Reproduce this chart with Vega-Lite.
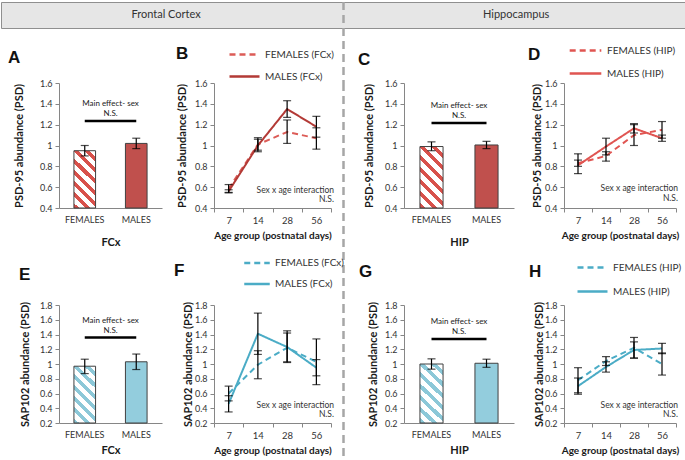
{
  "$schema": "https://vega.github.io/schema/vega-lite/v6.json",
  "padding": 0,
  "autosize": {"type": "pad"},
  "background": "white",
  "config": {
    "view": {"stroke": null},
    "font": "Lato",
    "text": {"font": "Lato"},
    "axis": {"domainColor": "#868686", "tickColor": "#868686", "labelColor": "#333333", "titleColor": "#1a1a1a", "labelFont": "Lato", "titleFont": "Lato", "titleFontWeight": "bold", "grid": false, "tickSize": 4, "labelFontSize": 9, "domainWidth": 1, "labelOverlap": false},
    "axisY": {"titleFontSize": 11, "labelPadding": 3},
    "axisX": {"titleFontSize": 10, "labelAngle": 0},
    "legend": {"labelFont": "Lato", "labelFontSize": 10, "labelColor": "#333333", "symbolType": "stroke", "symbolStrokeWidth": 2.5, "orient": "none", "title": null},
    "title": {"font": "Liberation Sans", "fontSize": 17, "fontWeight": "bold", "anchor": "start", "frame": "group", "baseline": "alphabetic", "color": "#111111"}
  },
  "data": {"values": [{"d": 0}]},
  "datasets": {
    "psdFCxBar": [{"sex": "FEMALES", "v": 0.95, "lo": 0.90, "hi": 1.00}, {"sex": "MALES", "v": 1.02, "lo": 0.97, "hi": 1.07}],
    "psdHIPBar": [{"sex": "FEMALES", "v": 0.99, "lo": 0.95, "hi": 1.035}, {"sex": "MALES", "v": 1.005, "lo": 0.97, "hi": 1.04}],
    "sapFCxBar": [{"sex": "FEMALES", "v": 0.97, "lo": 0.87, "hi": 1.065}, {"sex": "MALES", "v": 1.03, "lo": 0.925, "hi": 1.135}],
    "sapHIPBar": [{"sex": "FEMALES", "v": 1.0, "lo": 0.93, "hi": 1.07}, {"sex": "MALES", "v": 1.01, "lo": 0.955, "hi": 1.065}],
    "psdFCxLine": [
      {"age": 7, "grp": "FEMALES (FCx)", "v": 0.585, "lo": 0.55, "hi": 0.625},
      {"age": 14, "grp": "FEMALES (FCx)", "v": 1.01, "lo": 0.955, "hi": 1.075},
      {"age": 28, "grp": "FEMALES (FCx)", "v": 1.13, "lo": 1.02, "hi": 1.245},
      {"age": 56, "grp": "FEMALES (FCx)", "v": 1.07, "lo": 0.965, "hi": 1.17},
      {"age": 7, "grp": "MALES (FCx)", "v": 0.56, "lo": 0.545, "hi": 0.575},
      {"age": 14, "grp": "MALES (FCx)", "v": 1.0, "lo": 0.94, "hi": 1.06},
      {"age": 28, "grp": "MALES (FCx)", "v": 1.35, "lo": 1.27, "hi": 1.43},
      {"age": 56, "grp": "MALES (FCx)", "v": 1.18, "lo": 1.08, "hi": 1.28}
    ],
    "psdHIPLine": [
      {"age": 7, "grp": "FEMALES (HIP)", "v": 0.83, "lo": 0.80, "hi": 0.86},
      {"age": 14, "grp": "FEMALES (HIP)", "v": 0.90, "lo": 0.85, "hi": 0.94},
      {"age": 28, "grp": "FEMALES (HIP)", "v": 1.10, "lo": 1.00, "hi": 1.20},
      {"age": 56, "grp": "FEMALES (HIP)", "v": 1.15, "lo": 1.07, "hi": 1.23},
      {"age": 7, "grp": "MALES (HIP)", "v": 0.81, "lo": 0.73, "hi": 0.92},
      {"age": 14, "grp": "MALES (HIP)", "v": 0.99, "lo": 0.91, "hi": 1.07},
      {"age": 28, "grp": "MALES (HIP)", "v": 1.165, "lo": 1.12, "hi": 1.21},
      {"age": 56, "grp": "MALES (HIP)", "v": 1.07, "lo": 1.04, "hi": 1.10}
    ],
    "sapFCxLine": [
      {"age": 7, "grp": "FEMALES (FCx)", "v": 0.60, "lo": 0.50, "hi": 0.70},
      {"age": 14, "grp": "FEMALES (FCx)", "v": 0.99, "lo": 0.80, "hi": 1.18},
      {"age": 28, "grp": "FEMALES (FCx)", "v": 1.22, "lo": 1.02, "hi": 1.42},
      {"age": 56, "grp": "FEMALES (FCx)", "v": 1.03, "lo": 0.72, "hi": 1.34},
      {"age": 7, "grp": "MALES (FCx)", "v": 0.46, "lo": 0.35, "hi": 0.57},
      {"age": 14, "grp": "MALES (FCx)", "v": 1.41, "lo": 1.13, "hi": 1.69},
      {"age": 28, "grp": "MALES (FCx)", "v": 1.23, "lo": 1.03, "hi": 1.45},
      {"age": 56, "grp": "MALES (FCx)", "v": 0.95, "lo": 0.84, "hi": 1.06}
    ],
    "sapHIPLine": [
      {"age": 7, "grp": "FEMALES (HIP)", "v": 0.78, "lo": 0.61, "hi": 0.95},
      {"age": 14, "grp": "FEMALES (HIP)", "v": 1.04, "lo": 0.98, "hi": 1.10},
      {"age": 28, "grp": "FEMALES (HIP)", "v": 1.22, "lo": 1.08, "hi": 1.36},
      {"age": 56, "grp": "FEMALES (HIP)", "v": 1.00, "lo": 0.85, "hi": 1.15},
      {"age": 7, "grp": "MALES (HIP)", "v": 0.70, "lo": 0.59, "hi": 0.81},
      {"age": 14, "grp": "MALES (HIP)", "v": 0.96, "lo": 0.89, "hi": 1.03},
      {"age": 28, "grp": "MALES (HIP)", "v": 1.19, "lo": 1.08, "hi": 1.30},
      {"age": 56, "grp": "MALES (HIP)", "v": 1.21, "lo": 1.14, "hi": 1.28}
    ]
  },
  "resolve": {"scale": {"color": "independent", "strokeDash": "independent"}, "legend": {"color": "independent", "strokeDash": "independent"}},
  "vconcat": [
    {
      "width": 685, "height": 26,
      "view": {"fill": "#e6e6e6", "stroke": "#8f8f8f", "strokeWidth": 1},
      "layer": [
        {
          "data": {"values": [{"t": "Frontal Cortex", "p": 0.241}, {"t": "Hippocampus", "p": 0.752}]},
          "mark": {"type": "text", "font": "Lato", "fontSize": 11, "color": "#333333"},
          "encoding": {"x": {"field": "p", "type": "quantitative", "scale": {"domain": [0, 1]}, "axis": null}, "text": {"field": "t"}}
        },
        {
          "data": {"values": [{}]},
          "mark": {"type": "rule", "strokeDash": [8, 5], "strokeWidth": 2.5, "color": "#a6a6a6"},
          "encoding": {"x": {"datum": 0.5, "type": "quantitative"}}
        }
      ]
    },
    {
      "width": 685, "height": 55,
      "data": {"values": [{}]},
      "mark": {"type": "rule", "strokeDash": [8, 5], "strokeWidth": 2.5, "color": "#a6a6a6"},
      "encoding": {"x": {"datum": 0.5, "type": "quantitative", "scale": {"domain": [0, 1]}, "axis": null}}
    },
    {
      "columns": 10,
      "spacing": 0,
      "bounds": "flush",
      "resolve": {"scale": {"color": "independent", "strokeDash": "independent"}, "legend": {"color": "independent", "strokeDash": "independent"}},
      "concat": [
        {"width": 58, "height": 1, "mark": {"type": "text", "text": ""}, "encoding": {}},
        {
          "width": 103, "height": 125,
          "title": {"text": "A", "dx": -51, "offset": 12},
          "data": {"name": "psdFCxBar"},
          "layer": [
            {"mark": {"type": "bar", "stroke": "#404040", "strokeWidth": 1},
             "encoding": {
               "x": {"field": "sex", "type": "nominal", "title": "FCx", "scale": {"domain": ["FEMALES", "MALES"], "paddingInner": 0.58, "paddingOuter": 0.29}, "axis": {"ticks": false, "labelPadding": 7, "titlePadding": 12, "titleFontSize": 11}},
               "y": {"field": "v", "type": "quantitative", "title": "PSD-95 abundance (PSD)", "scale": {"domain": [0.4, 1.6], "nice": false, "zero": false}, "axis": {"values": [0.4, 0.6, 0.8, 1, 1.2, 1.4, 1.6], "tickCount": 12, "format": ".1~f", "titlePadding": 15}},
               "y2": {"datum": 0.4},
               "fill": {"condition": {"test": "datum.sex === 'FEMALES'", "value": {"gradient": "linear", "x1": 0, "y1": 1, "x2": 0.449, "y2": -0.205, "stops": [{"offset": 0, "color": "#D8514B"}, {"offset": 0.064, "color": "#D8514B"}, {"offset": 0.064, "color": "#ffffff"}, {"offset": 0.143, "color": "#ffffff"}, {"offset": 0.143, "color": "#D8514B"}, {"offset": 0.207, "color": "#D8514B"}, {"offset": 0.207, "color": "#ffffff"}, {"offset": 0.286, "color": "#ffffff"}, {"offset": 0.286, "color": "#D8514B"}, {"offset": 0.35, "color": "#D8514B"}, {"offset": 0.35, "color": "#ffffff"}, {"offset": 0.429, "color": "#ffffff"}, {"offset": 0.429, "color": "#D8514B"}, {"offset": 0.493, "color": "#D8514B"}, {"offset": 0.493, "color": "#ffffff"}, {"offset": 0.571, "color": "#ffffff"}, {"offset": 0.571, "color": "#D8514B"}, {"offset": 0.636, "color": "#D8514B"}, {"offset": 0.636, "color": "#ffffff"}, {"offset": 0.714, "color": "#ffffff"}, {"offset": 0.714, "color": "#D8514B"}, {"offset": 0.779, "color": "#D8514B"}, {"offset": 0.779, "color": "#ffffff"}, {"offset": 0.857, "color": "#ffffff"}, {"offset": 0.857, "color": "#D8514B"}, {"offset": 0.921, "color": "#D8514B"}, {"offset": 0.921, "color": "#ffffff"}, {"offset": 1, "color": "#ffffff"}]}}, "value": "#C0504D"}
             }},
            {"mark": {"type": "rule", "color": "#000000", "strokeWidth": 1.2}, "encoding": {"x": {"field": "sex", "type": "nominal", "title": "FCx"}, "y": {"field": "lo", "type": "quantitative", "title": "PSD-95 abundance (PSD)", "axis": {"values": [0.4, 0.6, 0.8, 1, 1.2, 1.4, 1.6], "tickCount": 12, "format": ".1~f", "titlePadding": 15}}, "y2": {"field": "hi"}}},
            {"mark": {"type": "tick", "orient": "horizontal", "size": 8, "thickness": 1.2, "color": "#000000"}, "encoding": {"x": {"field": "sex", "type": "nominal", "title": "FCx"}, "y": {"field": "lo", "type": "quantitative", "title": "PSD-95 abundance (PSD)", "axis": {"values": [0.4, 0.6, 0.8, 1, 1.2, 1.4, 1.6], "tickCount": 12, "format": ".1~f", "titlePadding": 15}}}},
            {"mark": {"type": "tick", "orient": "horizontal", "size": 8, "thickness": 1.2, "color": "#000000"}, "encoding": {"x": {"field": "sex", "type": "nominal", "title": "FCx"}, "y": {"field": "hi", "type": "quantitative", "title": "PSD-95 abundance (PSD)", "axis": {"values": [0.4, 0.6, 0.8, 1, 1.2, 1.4, 1.6], "tickCount": 12, "format": ".1~f", "titlePadding": 15}}}},
            {"data": {"values": [{}]}, "mark": {"type": "text", "text": "Main effect- sex", "fontSize": 8, "color": "#222222"}, "encoding": {"y": {"datum": 1.40, "type": "quantitative"}}},
            {"data": {"values": [{}]}, "mark": {"type": "text", "text": "N.S.", "fontSize": 8, "color": "#222222"}, "encoding": {"y": {"datum": 1.30, "type": "quantitative"}}},
            {"data": {"values": [{}]}, "mark": {"type": "rule", "strokeWidth": 2.5, "color": "#000000"}, "encoding": {"x": {"datum": "FEMALES", "type": "nominal"}, "x2": {"datum": "MALES"}, "y": {"datum": 1.235, "type": "quantitative"}}}
          ]
        },
        {"width": 52, "height": 1, "mark": {"type": "text", "text": ""}, "encoding": {}},
        {
          "width": 117, "height": 125,
          "title": {"text": "B", "dx": -38, "offset": -25},
          "data": {"name": "psdFCxLine"},
          "layer": [
            {"mark": {"type": "line", "strokeWidth": 2},
             "encoding": {
               "x": {"field": "age", "type": "ordinal", "title": "Age group (postnatal days)", "scale": {"type": "band", "domain": [7, 14, 28, 56], "paddingInner": 0, "paddingOuter": 0}, "axis": {"tickBand": "extent", "labelPadding": 3, "labelFontSize": 9.5, "titlePadding": 6}},
               "y": {"field": "v", "type": "quantitative", "title": "PSD-95 abundance (PSD)", "scale": {"domain": [0.4, 1.6], "nice": false, "zero": false}, "axis": {"values": [0.4, 0.6, 0.8, 1, 1.2, 1.4, 1.6], "tickCount": 12, "format": ".1~f", "titlePadding": 7}},
               "color": {"field": "grp", "type": "nominal", "scale": {"domain": ["FEMALES (FCx)", "MALES (FCx)"], "range": ["#DC5C57", "#B33A36"]}, "legend": {"legendX": 14, "legendY": -45, "rowPadding": -4, "symbolSize": 900}},
               "strokeDash": {"field": "grp", "type": "nominal", "scale": {"domain": ["FEMALES (FCx)", "MALES (FCx)"], "range": [[6, 4], [1, 0]]}, "legend": {"legendX": 14, "legendY": -45, "rowPadding": -4, "symbolSize": 900}}
             }},
            {"mark": {"type": "rule", "color": "#000000", "strokeWidth": 1.2}, "encoding": {"x": {"field": "age", "type": "ordinal", "title": "Age group (postnatal days)"}, "y": {"field": "lo", "type": "quantitative", "title": "PSD-95 abundance (PSD)", "axis": {"values": [0.4, 0.6, 0.8, 1, 1.2, 1.4, 1.6], "tickCount": 12, "format": ".1~f", "titlePadding": 7}}, "y2": {"field": "hi"}}},
            {"mark": {"type": "tick", "orient": "horizontal", "size": 8, "thickness": 1.2, "color": "#000000"}, "encoding": {"x": {"field": "age", "type": "ordinal", "title": "Age group (postnatal days)"}, "y": {"field": "lo", "type": "quantitative", "title": "PSD-95 abundance (PSD)", "axis": {"values": [0.4, 0.6, 0.8, 1, 1.2, 1.4, 1.6], "tickCount": 12, "format": ".1~f", "titlePadding": 7}}}},
            {"mark": {"type": "tick", "orient": "horizontal", "size": 8, "thickness": 1.2, "color": "#000000"}, "encoding": {"x": {"field": "age", "type": "ordinal", "title": "Age group (postnatal days)"}, "y": {"field": "hi", "type": "quantitative", "title": "PSD-95 abundance (PSD)", "axis": {"values": [0.4, 0.6, 0.8, 1, 1.2, 1.4, 1.6], "tickCount": 12, "format": ".1~f", "titlePadding": 7}}}},
            {"data": {"values": [{}]}, "mark": {"type": "text", "text": "Sex x age interaction", "align": "right", "dx": 3, "fontSize": 8.5, "color": "#333333"}, "encoding": {"x": {"value": "width"}, "y": {"datum": 0.573, "type": "quantitative"}}},
            {"data": {"values": [{}]}, "mark": {"type": "text", "text": "N.S.", "align": "right", "dx": 3, "fontSize": 8.5, "color": "#333333"}, "encoding": {"x": {"value": "width"}, "y": {"datum": 0.486, "type": "quantitative"}}}
          ]
        },
        {"width": 12, "height": 1, "mark": {"type": "text", "text": ""}, "encoding": {}},
        {"width": 1, "height": 222, "data": {"values": [{}]}, "mark": {"type": "rule", "strokeDash": [8, 5], "strokeWidth": 2.5, "color": "#a6a6a6"}, "encoding": {"x": {"datum": 0.5, "type": "quantitative", "scale": {"domain": [0, 1]}, "axis": null}}},
        {"width": 60, "height": 1, "mark": {"type": "text", "text": ""}, "encoding": {}},
        {
          "width": 110, "height": 125,
          "title": {"text": "C", "dx": -46, "offset": 10},
          "data": {"name": "psdHIPBar"},
          "layer": [
            {"mark": {"type": "bar", "stroke": "#404040", "strokeWidth": 1},
             "encoding": {
               "x": {"field": "sex", "type": "nominal", "title": "HIP", "scale": {"domain": ["FEMALES", "MALES"], "paddingInner": 0.58, "paddingOuter": 0.29}, "axis": {"ticks": false, "labelPadding": 7, "titlePadding": 12, "titleFontSize": 11}},
               "y": {"field": "v", "type": "quantitative", "title": "PSD-95 abundance (PSD)", "scale": {"domain": [0.4, 1.6], "nice": false, "zero": false}, "axis": {"values": [0.4, 0.6, 0.8, 1, 1.2, 1.4, 1.6], "tickCount": 12, "format": ".1~f", "titlePadding": 10}},
               "y2": {"datum": 0.4},
               "fill": {"condition": {"test": "datum.sex === 'FEMALES'", "value": {"gradient": "linear", "x1": 0, "y1": 1, "x2": 0.449, "y2": -0.205, "stops": [{"offset": 0, "color": "#D8514B"}, {"offset": 0.064, "color": "#D8514B"}, {"offset": 0.064, "color": "#ffffff"}, {"offset": 0.143, "color": "#ffffff"}, {"offset": 0.143, "color": "#D8514B"}, {"offset": 0.207, "color": "#D8514B"}, {"offset": 0.207, "color": "#ffffff"}, {"offset": 0.286, "color": "#ffffff"}, {"offset": 0.286, "color": "#D8514B"}, {"offset": 0.35, "color": "#D8514B"}, {"offset": 0.35, "color": "#ffffff"}, {"offset": 0.429, "color": "#ffffff"}, {"offset": 0.429, "color": "#D8514B"}, {"offset": 0.493, "color": "#D8514B"}, {"offset": 0.493, "color": "#ffffff"}, {"offset": 0.571, "color": "#ffffff"}, {"offset": 0.571, "color": "#D8514B"}, {"offset": 0.636, "color": "#D8514B"}, {"offset": 0.636, "color": "#ffffff"}, {"offset": 0.714, "color": "#ffffff"}, {"offset": 0.714, "color": "#D8514B"}, {"offset": 0.779, "color": "#D8514B"}, {"offset": 0.779, "color": "#ffffff"}, {"offset": 0.857, "color": "#ffffff"}, {"offset": 0.857, "color": "#D8514B"}, {"offset": 0.921, "color": "#D8514B"}, {"offset": 0.921, "color": "#ffffff"}, {"offset": 1, "color": "#ffffff"}]}}, "value": "#C0504D"}
             }},
            {"mark": {"type": "rule", "color": "#000000", "strokeWidth": 1.2}, "encoding": {"x": {"field": "sex", "type": "nominal", "title": "HIP"}, "y": {"field": "lo", "type": "quantitative", "title": "PSD-95 abundance (PSD)", "axis": {"values": [0.4, 0.6, 0.8, 1, 1.2, 1.4, 1.6], "tickCount": 12, "format": ".1~f", "titlePadding": 10}}, "y2": {"field": "hi"}}},
            {"mark": {"type": "tick", "orient": "horizontal", "size": 8, "thickness": 1.2, "color": "#000000"}, "encoding": {"x": {"field": "sex", "type": "nominal", "title": "HIP"}, "y": {"field": "lo", "type": "quantitative", "title": "PSD-95 abundance (PSD)", "axis": {"values": [0.4, 0.6, 0.8, 1, 1.2, 1.4, 1.6], "tickCount": 12, "format": ".1~f", "titlePadding": 10}}}},
            {"mark": {"type": "tick", "orient": "horizontal", "size": 8, "thickness": 1.2, "color": "#000000"}, "encoding": {"x": {"field": "sex", "type": "nominal", "title": "HIP"}, "y": {"field": "hi", "type": "quantitative", "title": "PSD-95 abundance (PSD)", "axis": {"values": [0.4, 0.6, 0.8, 1, 1.2, 1.4, 1.6], "tickCount": 12, "format": ".1~f", "titlePadding": 10}}}},
            {"data": {"values": [{}]}, "mark": {"type": "text", "text": "Main effect- sex", "fontSize": 8, "color": "#222222"}, "encoding": {"y": {"datum": 1.38, "type": "quantitative"}}},
            {"data": {"values": [{}]}, "mark": {"type": "text", "text": "N.S.", "fontSize": 8, "color": "#222222"}, "encoding": {"y": {"datum": 1.28, "type": "quantitative"}}},
            {"data": {"values": [{}]}, "mark": {"type": "rule", "strokeWidth": 2.5, "color": "#000000"}, "encoding": {"x": {"datum": "FEMALES", "type": "nominal"}, "x2": {"datum": "MALES"}, "y": {"datum": 1.215, "type": "quantitative"}}}
          ]
        },
        {"width": 50, "height": 1, "mark": {"type": "text", "text": ""}, "encoding": {}},
        {
          "width": 112, "height": 125,
          "title": {"text": "D", "dx": -36, "offset": -31},
          "data": {"name": "psdHIPLine"},
          "layer": [
            {"mark": {"type": "line", "strokeWidth": 2},
             "encoding": {
               "x": {"field": "age", "type": "ordinal", "title": "Age group (postnatal days)", "scale": {"type": "band", "domain": [7, 14, 28, 56], "paddingInner": 0, "paddingOuter": 0}, "axis": {"tickBand": "extent", "labelPadding": 3, "labelFontSize": 9.5, "titlePadding": 6}},
               "y": {"field": "v", "type": "quantitative", "title": "PSD-95 abundance (PSD)", "scale": {"domain": [0.4, 1.6], "nice": false, "zero": false}, "axis": {"values": [0.4, 0.6, 0.8, 1, 1.2, 1.4, 1.6], "tickCount": 12, "format": ".1~f", "titlePadding": 2}},
               "color": {"field": "grp", "type": "nominal", "scale": {"domain": ["FEMALES (HIP)", "MALES (HIP)"], "range": ["#E05552", "#E05552"]}, "legend": {"legendX": 4, "legendY": -50, "rowPadding": -1, "symbolSize": 1000}},
               "strokeDash": {"field": "grp", "type": "nominal", "scale": {"domain": ["FEMALES (HIP)", "MALES (HIP)"], "range": [[6, 4], [1, 0]]}, "legend": {"legendX": 4, "legendY": -50, "rowPadding": -1, "symbolSize": 1000}}
             }},
            {"mark": {"type": "rule", "color": "#000000", "strokeWidth": 1.2}, "encoding": {"x": {"field": "age", "type": "ordinal", "title": "Age group (postnatal days)"}, "y": {"field": "lo", "type": "quantitative", "title": "PSD-95 abundance (PSD)", "axis": {"values": [0.4, 0.6, 0.8, 1, 1.2, 1.4, 1.6], "tickCount": 12, "format": ".1~f", "titlePadding": 2}}, "y2": {"field": "hi"}}},
            {"mark": {"type": "tick", "orient": "horizontal", "size": 8, "thickness": 1.2, "color": "#000000"}, "encoding": {"x": {"field": "age", "type": "ordinal", "title": "Age group (postnatal days)"}, "y": {"field": "lo", "type": "quantitative", "title": "PSD-95 abundance (PSD)", "axis": {"values": [0.4, 0.6, 0.8, 1, 1.2, 1.4, 1.6], "tickCount": 12, "format": ".1~f", "titlePadding": 2}}}},
            {"mark": {"type": "tick", "orient": "horizontal", "size": 8, "thickness": 1.2, "color": "#000000"}, "encoding": {"x": {"field": "age", "type": "ordinal", "title": "Age group (postnatal days)"}, "y": {"field": "hi", "type": "quantitative", "title": "PSD-95 abundance (PSD)", "axis": {"values": [0.4, 0.6, 0.8, 1, 1.2, 1.4, 1.6], "tickCount": 12, "format": ".1~f", "titlePadding": 2}}}},
            {"data": {"values": [{}]}, "mark": {"type": "text", "text": "Sex x age interaction", "align": "right", "dx": 2, "fontSize": 8.5, "color": "#333333"}, "encoding": {"x": {"value": "width"}, "y": {"datum": 0.59, "type": "quantitative"}}},
            {"data": {"values": [{}]}, "mark": {"type": "text", "text": "N.S.", "align": "right", "dx": 2, "fontSize": 8.5, "color": "#333333"}, "encoding": {"x": {"value": "width"}, "y": {"datum": 0.496, "type": "quantitative"}}}
          ]
        },
        {"width": 58, "height": 1, "mark": {"type": "text", "text": ""}, "encoding": {}},
        {
          "width": 103, "height": 118,
          "title": {"text": "E", "dx": -40, "offset": 17},
          "data": {"name": "sapFCxBar"},
          "layer": [
            {"mark": {"type": "bar", "stroke": "#404040", "strokeWidth": 1},
             "encoding": {
               "x": {"field": "sex", "type": "nominal", "title": "FCx", "scale": {"domain": ["FEMALES", "MALES"], "paddingInner": 0.58, "paddingOuter": 0.29}, "axis": {"ticks": false, "labelPadding": 7, "titlePadding": 5, "titleFontSize": 11}},
               "y": {"field": "v", "type": "quantitative", "title": "SAP102 abundance (PSD)", "scale": {"domain": [0.2, 1.8], "nice": false, "zero": false}, "axis": {"values": [0.2, 0.4, 0.6, 0.8, 1, 1.2, 1.4, 1.6, 1.8], "tickCount": 12, "format": ".1~f", "titlePadding": 9}},
               "y2": {"datum": 0.2},
               "fill": {"condition": {"test": "datum.sex === 'FEMALES'", "value": {"gradient": "linear", "x1": 0, "y1": 1, "x2": 0.449, "y2": -0.205, "stops": [{"offset": 0, "color": "#8CC8D8"}, {"offset": 0.064, "color": "#8CC8D8"}, {"offset": 0.064, "color": "#ffffff"}, {"offset": 0.143, "color": "#ffffff"}, {"offset": 0.143, "color": "#8CC8D8"}, {"offset": 0.207, "color": "#8CC8D8"}, {"offset": 0.207, "color": "#ffffff"}, {"offset": 0.286, "color": "#ffffff"}, {"offset": 0.286, "color": "#8CC8D8"}, {"offset": 0.35, "color": "#8CC8D8"}, {"offset": 0.35, "color": "#ffffff"}, {"offset": 0.429, "color": "#ffffff"}, {"offset": 0.429, "color": "#8CC8D8"}, {"offset": 0.493, "color": "#8CC8D8"}, {"offset": 0.493, "color": "#ffffff"}, {"offset": 0.571, "color": "#ffffff"}, {"offset": 0.571, "color": "#8CC8D8"}, {"offset": 0.636, "color": "#8CC8D8"}, {"offset": 0.636, "color": "#ffffff"}, {"offset": 0.714, "color": "#ffffff"}, {"offset": 0.714, "color": "#8CC8D8"}, {"offset": 0.779, "color": "#8CC8D8"}, {"offset": 0.779, "color": "#ffffff"}, {"offset": 0.857, "color": "#ffffff"}, {"offset": 0.857, "color": "#8CC8D8"}, {"offset": 0.921, "color": "#8CC8D8"}, {"offset": 0.921, "color": "#ffffff"}, {"offset": 1, "color": "#ffffff"}]}}, "value": "#93CDDD"}
             }},
            {"mark": {"type": "rule", "color": "#000000", "strokeWidth": 1.2}, "encoding": {"x": {"field": "sex", "type": "nominal", "title": "FCx"}, "y": {"field": "lo", "type": "quantitative", "title": "SAP102 abundance (PSD)", "axis": {"values": [0.2, 0.4, 0.6, 0.8, 1, 1.2, 1.4, 1.6, 1.8], "tickCount": 12, "format": ".1~f", "titlePadding": 9}}, "y2": {"field": "hi"}}},
            {"mark": {"type": "tick", "orient": "horizontal", "size": 8, "thickness": 1.2, "color": "#000000"}, "encoding": {"x": {"field": "sex", "type": "nominal", "title": "FCx"}, "y": {"field": "lo", "type": "quantitative", "title": "SAP102 abundance (PSD)", "axis": {"values": [0.2, 0.4, 0.6, 0.8, 1, 1.2, 1.4, 1.6, 1.8], "tickCount": 12, "format": ".1~f", "titlePadding": 9}}}},
            {"mark": {"type": "tick", "orient": "horizontal", "size": 8, "thickness": 1.2, "color": "#000000"}, "encoding": {"x": {"field": "sex", "type": "nominal", "title": "FCx"}, "y": {"field": "hi", "type": "quantitative", "title": "SAP102 abundance (PSD)", "axis": {"values": [0.2, 0.4, 0.6, 0.8, 1, 1.2, 1.4, 1.6, 1.8], "tickCount": 12, "format": ".1~f", "titlePadding": 9}}}},
            {"data": {"values": [{}]}, "mark": {"type": "text", "text": "Main effect- sex", "fontSize": 8, "color": "#222222"}, "encoding": {"y": {"datum": 1.58, "type": "quantitative"}}},
            {"data": {"values": [{}]}, "mark": {"type": "text", "text": "N.S.", "fontSize": 8, "color": "#222222"}, "encoding": {"y": {"datum": 1.45, "type": "quantitative"}}},
            {"data": {"values": [{}]}, "mark": {"type": "rule", "strokeWidth": 2.5, "color": "#000000"}, "encoding": {"x": {"datum": "FEMALES", "type": "nominal"}, "x2": {"datum": "MALES"}, "y": {"datum": 1.36, "type": "quantitative"}}}
          ]
        },
        {"width": 52, "height": 1, "mark": {"type": "text", "text": ""}, "encoding": {}},
        {
          "width": 117, "height": 118,
          "title": {"text": "F", "dx": -40, "offset": -31},
          "data": {"name": "sapFCxLine"},
          "layer": [
            {"mark": {"type": "line", "strokeWidth": 2},
             "encoding": {
               "x": {"field": "age", "type": "ordinal", "title": "Age group (postnatal days)", "scale": {"type": "band", "domain": [7, 14, 28, 56], "paddingInner": 0, "paddingOuter": 0}, "axis": {"tickBand": "extent", "labelPadding": 3, "labelFontSize": 9.5, "titlePadding": 6}},
               "y": {"field": "v", "type": "quantitative", "title": "SAP102 abundance (PSD)", "scale": {"domain": [0.2, 1.8], "nice": false, "zero": false}, "axis": {"values": [0.2, 0.4, 0.6, 0.8, 1, 1.2, 1.4, 1.6, 1.8], "tickCount": 12, "format": ".1~f", "titlePadding": 1}},
               "color": {"field": "grp", "type": "nominal", "scale": {"domain": ["FEMALES (FCx)", "MALES (FCx)"], "range": ["#4BACC6", "#4BACC6"]}, "legend": {"legendX": 29, "legendY": -56, "rowPadding": 2, "symbolSize": 650}},
               "strokeDash": {"field": "grp", "type": "nominal", "scale": {"domain": ["FEMALES (FCx)", "MALES (FCx)"], "range": [[6, 4], [1, 0]]}, "legend": {"legendX": 29, "legendY": -56, "rowPadding": 2, "symbolSize": 650}}
             }},
            {"mark": {"type": "rule", "color": "#000000", "strokeWidth": 1.2}, "encoding": {"x": {"field": "age", "type": "ordinal", "title": "Age group (postnatal days)"}, "y": {"field": "lo", "type": "quantitative", "title": "SAP102 abundance (PSD)", "axis": {"values": [0.2, 0.4, 0.6, 0.8, 1, 1.2, 1.4, 1.6, 1.8], "tickCount": 12, "format": ".1~f", "titlePadding": 1}}, "y2": {"field": "hi"}}},
            {"mark": {"type": "tick", "orient": "horizontal", "size": 8, "thickness": 1.2, "color": "#000000"}, "encoding": {"x": {"field": "age", "type": "ordinal", "title": "Age group (postnatal days)"}, "y": {"field": "lo", "type": "quantitative", "title": "SAP102 abundance (PSD)", "axis": {"values": [0.2, 0.4, 0.6, 0.8, 1, 1.2, 1.4, 1.6, 1.8], "tickCount": 12, "format": ".1~f", "titlePadding": 1}}}},
            {"mark": {"type": "tick", "orient": "horizontal", "size": 8, "thickness": 1.2, "color": "#000000"}, "encoding": {"x": {"field": "age", "type": "ordinal", "title": "Age group (postnatal days)"}, "y": {"field": "hi", "type": "quantitative", "title": "SAP102 abundance (PSD)", "axis": {"values": [0.2, 0.4, 0.6, 0.8, 1, 1.2, 1.4, 1.6, 1.8], "tickCount": 12, "format": ".1~f", "titlePadding": 1}}}},
            {"data": {"values": [{}]}, "mark": {"type": "text", "text": "Sex x age interaction", "align": "right", "dx": 3, "fontSize": 8.5, "color": "#333333"}, "encoding": {"x": {"value": "width"}, "y": {"datum": 0.45, "type": "quantitative"}}},
            {"data": {"values": [{}]}, "mark": {"type": "text", "text": "N.S.", "align": "right", "dx": 3, "fontSize": 8.5, "color": "#333333"}, "encoding": {"x": {"value": "width"}, "y": {"datum": 0.325, "type": "quantitative"}}}
          ]
        },
        {"width": 12, "height": 1, "mark": {"type": "text", "text": ""}, "encoding": {}},
        {"width": 1, "height": 157, "data": {"values": [{}]}, "mark": {"type": "rule", "strokeDash": [8, 5], "strokeWidth": 2.5, "color": "#a6a6a6"}, "encoding": {"x": {"datum": 0.5, "type": "quantitative", "scale": {"domain": [0, 1]}, "axis": null}}},
        {"width": 60, "height": 1, "mark": {"type": "text", "text": ""}, "encoding": {}},
        {
          "width": 110, "height": 118,
          "title": {"text": "G", "dx": -45, "offset": 20},
          "data": {"name": "sapHIPBar"},
          "layer": [
            {"mark": {"type": "bar", "stroke": "#404040", "strokeWidth": 1},
             "encoding": {
               "x": {"field": "sex", "type": "nominal", "title": "HIP", "scale": {"domain": ["FEMALES", "MALES"], "paddingInner": 0.58, "paddingOuter": 0.29}, "axis": {"ticks": false, "labelPadding": 7, "titlePadding": 5, "titleFontSize": 11}},
               "y": {"field": "v", "type": "quantitative", "title": "SAP102 abundance (PSD)", "scale": {"domain": [0.2, 1.8], "nice": false, "zero": false}, "axis": {"values": [0.2, 0.4, 0.6, 0.8, 1, 1.2, 1.4, 1.6, 1.8], "tickCount": 12, "format": ".1~f", "titlePadding": 6}},
               "y2": {"datum": 0.2},
               "fill": {"condition": {"test": "datum.sex === 'FEMALES'", "value": {"gradient": "linear", "x1": 0, "y1": 1, "x2": 0.449, "y2": -0.205, "stops": [{"offset": 0, "color": "#8CC8D8"}, {"offset": 0.064, "color": "#8CC8D8"}, {"offset": 0.064, "color": "#ffffff"}, {"offset": 0.143, "color": "#ffffff"}, {"offset": 0.143, "color": "#8CC8D8"}, {"offset": 0.207, "color": "#8CC8D8"}, {"offset": 0.207, "color": "#ffffff"}, {"offset": 0.286, "color": "#ffffff"}, {"offset": 0.286, "color": "#8CC8D8"}, {"offset": 0.35, "color": "#8CC8D8"}, {"offset": 0.35, "color": "#ffffff"}, {"offset": 0.429, "color": "#ffffff"}, {"offset": 0.429, "color": "#8CC8D8"}, {"offset": 0.493, "color": "#8CC8D8"}, {"offset": 0.493, "color": "#ffffff"}, {"offset": 0.571, "color": "#ffffff"}, {"offset": 0.571, "color": "#8CC8D8"}, {"offset": 0.636, "color": "#8CC8D8"}, {"offset": 0.636, "color": "#ffffff"}, {"offset": 0.714, "color": "#ffffff"}, {"offset": 0.714, "color": "#8CC8D8"}, {"offset": 0.779, "color": "#8CC8D8"}, {"offset": 0.779, "color": "#ffffff"}, {"offset": 0.857, "color": "#ffffff"}, {"offset": 0.857, "color": "#8CC8D8"}, {"offset": 0.921, "color": "#8CC8D8"}, {"offset": 0.921, "color": "#ffffff"}, {"offset": 1, "color": "#ffffff"}]}}, "value": "#93CDDD"}
             }},
            {"mark": {"type": "rule", "color": "#000000", "strokeWidth": 1.2}, "encoding": {"x": {"field": "sex", "type": "nominal", "title": "HIP"}, "y": {"field": "lo", "type": "quantitative", "title": "SAP102 abundance (PSD)", "axis": {"values": [0.2, 0.4, 0.6, 0.8, 1, 1.2, 1.4, 1.6, 1.8], "tickCount": 12, "format": ".1~f", "titlePadding": 6}}, "y2": {"field": "hi"}}},
            {"mark": {"type": "tick", "orient": "horizontal", "size": 8, "thickness": 1.2, "color": "#000000"}, "encoding": {"x": {"field": "sex", "type": "nominal", "title": "HIP"}, "y": {"field": "lo", "type": "quantitative", "title": "SAP102 abundance (PSD)", "axis": {"values": [0.2, 0.4, 0.6, 0.8, 1, 1.2, 1.4, 1.6, 1.8], "tickCount": 12, "format": ".1~f", "titlePadding": 6}}}},
            {"mark": {"type": "tick", "orient": "horizontal", "size": 8, "thickness": 1.2, "color": "#000000"}, "encoding": {"x": {"field": "sex", "type": "nominal", "title": "HIP"}, "y": {"field": "hi", "type": "quantitative", "title": "SAP102 abundance (PSD)", "axis": {"values": [0.2, 0.4, 0.6, 0.8, 1, 1.2, 1.4, 1.6, 1.8], "tickCount": 12, "format": ".1~f", "titlePadding": 6}}}},
            {"data": {"values": [{}]}, "mark": {"type": "text", "text": "Main effect- sex", "fontSize": 8, "color": "#222222"}, "encoding": {"y": {"datum": 1.57, "type": "quantitative"}}},
            {"data": {"values": [{}]}, "mark": {"type": "text", "text": "N.S.", "fontSize": 8, "color": "#222222"}, "encoding": {"y": {"datum": 1.44, "type": "quantitative"}}},
            {"data": {"values": [{}]}, "mark": {"type": "rule", "strokeWidth": 2.5, "color": "#000000"}, "encoding": {"x": {"datum": "FEMALES", "type": "nominal"}, "x2": {"datum": "MALES"}, "y": {"datum": 1.34, "type": "quantitative"}}}
          ]
        },
        {"width": 50, "height": 1, "mark": {"type": "text", "text": ""}, "encoding": {}},
        {
          "width": 112, "height": 118,
          "title": {"text": "H", "dx": -35, "offset": -30},
          "data": {"name": "sapHIPLine"},
          "layer": [
            {"mark": {"type": "line", "strokeWidth": 2},
             "encoding": {
               "x": {"field": "age", "type": "ordinal", "title": "Age group (postnatal days)", "scale": {"type": "band", "domain": [7, 14, 28, 56], "paddingInner": 0, "paddingOuter": 0}, "axis": {"tickBand": "extent", "labelPadding": 3, "labelFontSize": 9.5, "titlePadding": 6}},
               "y": {"field": "v", "type": "quantitative", "title": "SAP102 abundance (PSD)", "scale": {"domain": [0.2, 1.8], "nice": false, "zero": false}, "axis": {"values": [0.2, 0.4, 0.6, 0.8, 1, 1.2, 1.4, 1.6, 1.8], "tickCount": 12, "format": ".1~f", "titlePadding": 0}},
               "color": {"field": "grp", "type": "nominal", "scale": {"domain": ["FEMALES (HIP)", "MALES (HIP)"], "range": ["#4BACC6", "#4BACC6"]}, "legend": {"legendX": 12, "legendY": -54, "rowPadding": 2, "symbolSize": 900}},
               "strokeDash": {"field": "grp", "type": "nominal", "scale": {"domain": ["FEMALES (HIP)", "MALES (HIP)"], "range": [[6, 4], [1, 0]]}, "legend": {"legendX": 12, "legendY": -54, "rowPadding": 2, "symbolSize": 900}}
             }},
            {"mark": {"type": "rule", "color": "#000000", "strokeWidth": 1.2}, "encoding": {"x": {"field": "age", "type": "ordinal", "title": "Age group (postnatal days)"}, "y": {"field": "lo", "type": "quantitative", "title": "SAP102 abundance (PSD)", "axis": {"values": [0.2, 0.4, 0.6, 0.8, 1, 1.2, 1.4, 1.6, 1.8], "tickCount": 12, "format": ".1~f", "titlePadding": 0}}, "y2": {"field": "hi"}}},
            {"mark": {"type": "tick", "orient": "horizontal", "size": 8, "thickness": 1.2, "color": "#000000"}, "encoding": {"x": {"field": "age", "type": "ordinal", "title": "Age group (postnatal days)"}, "y": {"field": "lo", "type": "quantitative", "title": "SAP102 abundance (PSD)", "axis": {"values": [0.2, 0.4, 0.6, 0.8, 1, 1.2, 1.4, 1.6, 1.8], "tickCount": 12, "format": ".1~f", "titlePadding": 0}}}},
            {"mark": {"type": "tick", "orient": "horizontal", "size": 8, "thickness": 1.2, "color": "#000000"}, "encoding": {"x": {"field": "age", "type": "ordinal", "title": "Age group (postnatal days)"}, "y": {"field": "hi", "type": "quantitative", "title": "SAP102 abundance (PSD)", "axis": {"values": [0.2, 0.4, 0.6, 0.8, 1, 1.2, 1.4, 1.6, 1.8], "tickCount": 12, "format": ".1~f", "titlePadding": 0}}}},
            {"data": {"values": [{}]}, "mark": {"type": "text", "text": "Sex x age interaction", "align": "right", "dx": 2, "fontSize": 8.5, "color": "#333333"}, "encoding": {"x": {"value": "width"}, "y": {"datum": 0.45, "type": "quantitative"}}},
            {"data": {"values": [{}]}, "mark": {"type": "text", "text": "N.S.", "align": "right", "dx": 2, "fontSize": 8.5, "color": "#333333"}, "encoding": {"x": {"value": "width"}, "y": {"datum": 0.325, "type": "quantitative"}}}
          ]
        }
      ]
    }
  ],
  "spacing": 0,
  "bounds": "flush"
}
